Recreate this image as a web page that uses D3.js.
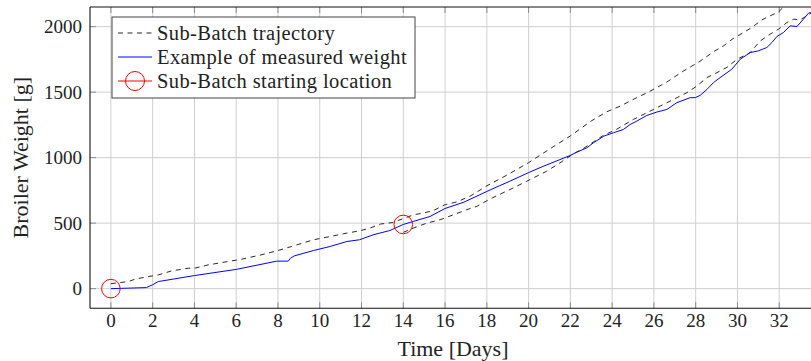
<!DOCTYPE html>
<html>
<head>
<meta charset="utf-8">
<script src="https://cdn.jsdelivr.net/npm/d3@7"></script>
<style>
  html, body { margin: 0; padding: 0; background: #fff; }
  svg { display: block; }
  text { font-family: "Liberation Serif", "DejaVu Serif", serif; fill: #222; }
</style>
</head>
<body>
<svg id="chart" width="811" height="361"></svg>
<script>
// Measured broiler weight (g) over time (days)
const measuredDays = [0, 1.7, 2.0, 2.27, 4.0, 6.0, 7.94, 8.49, 8.6, 8.78, 9.7, 10.5, 11.3, 11.9, 12.56, 13.36, 14.0, 14.48, 15.28, 16.0, 16.9, 18.0, 18.6, 19.1, 20.0, 20.7, 21.5, 21.98, 22.3, 22.79, 23.1, 23.6, 24.06, 24.54, 24.86, 25.18, 25.66, 26.14, 26.62, 27.1, 27.74, 27.98, 28.22, 28.54, 28.85, 29.17, 29.73, 30.13, 30.61, 31.0, 31.41, 31.65, 31.89, 32.2, 32.53, 32.85, 33.16, 33.4, 33.6];
const measuredWeight = [0, 8, 30, 54, 100, 147, 210, 210, 232, 250, 291, 322, 360, 373, 411, 444, 490, 513, 551, 612, 660, 742, 785, 820, 886, 934, 985, 1016, 1041, 1075, 1113, 1164, 1190, 1215, 1253, 1279, 1322, 1348, 1368, 1420, 1458, 1458, 1476, 1521, 1573, 1611, 1675, 1751, 1802, 1815, 1841, 1879, 1925, 1955, 2006, 2001, 2057, 2103, 2110];

// Sub-batch trajectory starting on day 0
const traj1Days = [0, 0.83, 1.15, 1.79, 2.27, 2.9, 3.7, 4.0, 4.65, 5.6, 6.26, 7.2, 8.0, 8.65, 9.7, 10.5, 11.3, 11.93, 12.4, 12.9, 13.5, 14.0, 14.5, 14.96, 15.45, 16.0, 16.56, 17.2, 18.0, 19.0, 20.0, 21.0, 22.0, 23.0, 23.74, 24.38, 25.18, 25.74, 26.62, 27.42, 28.2, 28.85, 29.33, 29.8, 30.29, 30.69, 31.17, 31.57, 31.97, 32.4];
const traj1Weight = [38, 54, 72, 92, 105, 135, 156, 156, 181, 207, 225, 258, 291, 322, 373, 398, 424, 442, 462, 493, 505, 535, 564, 577, 597, 641, 662, 706, 785, 870, 962, 1065, 1166, 1280, 1350, 1393, 1458, 1501, 1577, 1662, 1735, 1808, 1853, 1910, 1955, 1994, 2052, 2083, 2113, 2180];

// Sub-batch trajectory starting on day 14
const traj2Days = [14.0, 14.48, 15.12, 15.76, 16.4, 17.04, 17.52, 18.16, 19.1, 19.9, 20.86, 21.5, 22.15, 22.6, 23.1, 23.58, 24.2, 25.02, 25.98, 26.94, 27.58, 28.06, 28.54, 29.02, 29.5, 29.98, 30.61, 31.09, 31.57, 31.97, 32.37, 32.69, 33.0, 33.32, 33.6];
const traj2Weight = [430, 462, 500, 526, 564, 603, 628, 685, 756, 819, 896, 960, 1030, 1068, 1120, 1170, 1215, 1292, 1368, 1445, 1496, 1547, 1611, 1649, 1690, 1751, 1802, 1891, 1943, 1981, 2032, 2057, 2052, 2083, 2110];

// Sub-batch starting locations
const startDays = [0, 14];
const startWeight = [0, 490];

const xTicks = d3.range(0, 33, 2);
const yTicks = [0, 500, 1000, 1500, 2000];

const legendLabels = ["Sub-Batch trajectory", "Example of measured weight", "Sub-Batch starting location"];

const svg = d3.select("#chart");
const plotLeft = 90, plotRight = 821, plotTop = 7, plotBottom = 308.3;

const x = d3.scaleLinear().domain([-1, 34]).range([plotLeft, plotRight]);
const y = d3.scaleLinear().domain([-150, 2150]).range([plotBottom, plotTop]);

svg.append("defs").append("clipPath").attr("id", "plot-clip")
  .append("rect").attr("x", plotLeft).attr("y", plotTop)
  .attr("width", plotRight - plotLeft).attr("height", plotBottom - plotTop);

// grid
const grid = svg.append("g");
grid.selectAll("line.gx").data(xTicks).join("line")
  .attr("x1", d => x(d)).attr("x2", d => x(d)).attr("y1", plotTop).attr("y2", plotBottom)
  .attr("stroke", "#cfcfcf").attr("stroke-width", 1);
grid.selectAll("line.gy").data(yTicks).join("line")
  .attr("x1", plotLeft).attr("x2", plotRight).attr("y1", d => y(d)).attr("y2", d => y(d))
  .attr("stroke", "#cfcfcf").attr("stroke-width", 1);

// inward tick marks
const tickLen = 6, tickColor = "#8c8c8c";
const ticks = svg.append("g").attr("stroke", tickColor).attr("stroke-width", 1);
xTicks.forEach(d => {
  ticks.append("line").attr("x1", x(d)).attr("x2", x(d)).attr("y1", plotBottom).attr("y2", plotBottom - tickLen);
  ticks.append("line").attr("x1", x(d)).attr("x2", x(d)).attr("y1", plotTop).attr("y2", plotTop + tickLen);
});
yTicks.forEach(d => {
  ticks.append("line").attr("x1", plotLeft).attr("x2", plotLeft + tickLen).attr("y1", y(d)).attr("y2", y(d));
});

// data lines
const plot = svg.append("g").attr("clip-path", "url(#plot-clip)");
const line = d3.line().x(d => x(d[0])).y(d => y(d[1]));

plot.append("path").datum(d3.zip(traj1Days, traj1Weight))
  .attr("d", line).attr("fill", "none").attr("stroke", "#111")
  .attr("stroke-width", 0.9).attr("stroke-dasharray", "5,4.5");
plot.append("path").datum(d3.zip(traj2Days, traj2Weight))
  .attr("d", line).attr("fill", "none").attr("stroke", "#111")
  .attr("stroke-width", 0.9).attr("stroke-dasharray", "5,4.5");
plot.append("path").datum(d3.zip(measuredDays, measuredWeight))
  .attr("d", line).attr("fill", "none").attr("stroke", "#0000ff")
  .attr("stroke-width", 1);

plot.selectAll("circle.start").data(d3.zip(startDays, startWeight)).join("circle")
  .attr("cx", d => x(d[0])).attr("cy", d => y(d[1])).attr("r", 9.3)
  .attr("fill", "none").attr("stroke", "#ff0000").attr("stroke-width", 1);

// axis frame
const frame = svg.append("g").attr("stroke", "#111").attr("stroke-width", 1.1);
frame.append("line").attr("x1", plotLeft).attr("x2", plotLeft).attr("y1", plotTop).attr("y2", plotBottom);
frame.append("line").attr("x1", plotLeft).attr("x2", 811).attr("y1", plotBottom).attr("y2", plotBottom);
frame.append("line").attr("x1", plotLeft).attr("x2", 811).attr("y1", plotTop).attr("y2", plotTop);

// tick labels
svg.append("g").selectAll("text").data(xTicks).join("text")
  .attr("x", d => x(d)).attr("y", 327).attr("text-anchor", "middle")
  .attr("font-size", 19).text(d => d);
svg.append("g").selectAll("text").data(yTicks).join("text")
  .attr("x", 82).attr("y", d => y(d)).attr("dy", "0.34em").attr("text-anchor", "end")
  .attr("font-size", 19).text(d => d);

// axis titles
svg.append("text").attr("x", 453).attr("y", 356).attr("text-anchor", "middle")
  .attr("font-size", 22).attr("fill", "#444").text("Time [Days]");
svg.append("text").attr("transform", `translate(28,${(plotTop + plotBottom) / 2}) rotate(-90)`)
  .attr("text-anchor", "middle").attr("font-size", 22).attr("fill", "#444")
  .text("Broiler Weight [g]");

// legend
const lg = svg.append("g");
lg.append("rect").attr("x", 112).attr("y", 17).attr("width", 303).attr("height", 81)
  .attr("fill", "#fff").attr("stroke", "#444").attr("stroke-width", 1);
const rowY = [33, 57, 81];
lg.append("line").attr("x1", 118).attr("x2", 152).attr("y1", rowY[0]).attr("y2", rowY[0])
  .attr("stroke", "#111").attr("stroke-width", 0.9).attr("stroke-dasharray", "5,4.5");
lg.append("line").attr("x1", 118).attr("x2", 152).attr("y1", rowY[1]).attr("y2", rowY[1])
  .attr("stroke", "#0000ff").attr("stroke-width", 1);
lg.append("line").attr("x1", 118).attr("x2", 152).attr("y1", rowY[2]).attr("y2", rowY[2])
  .attr("stroke", "#ff0000").attr("stroke-width", 1);
lg.append("circle").attr("cx", 135).attr("cy", rowY[2]).attr("r", 9.5)
  .attr("fill", "none").attr("stroke", "#ff0000").attr("stroke-width", 1);
lg.selectAll("text").data(legendLabels).join("text")
  .attr("x", 157).attr("y", (d, i) => rowY[i]).attr("dy", "0.34em")
  .attr("font-size", 20.5).attr("letter-spacing", 0.4).text(d => d);
</script>
</body>
</html>
